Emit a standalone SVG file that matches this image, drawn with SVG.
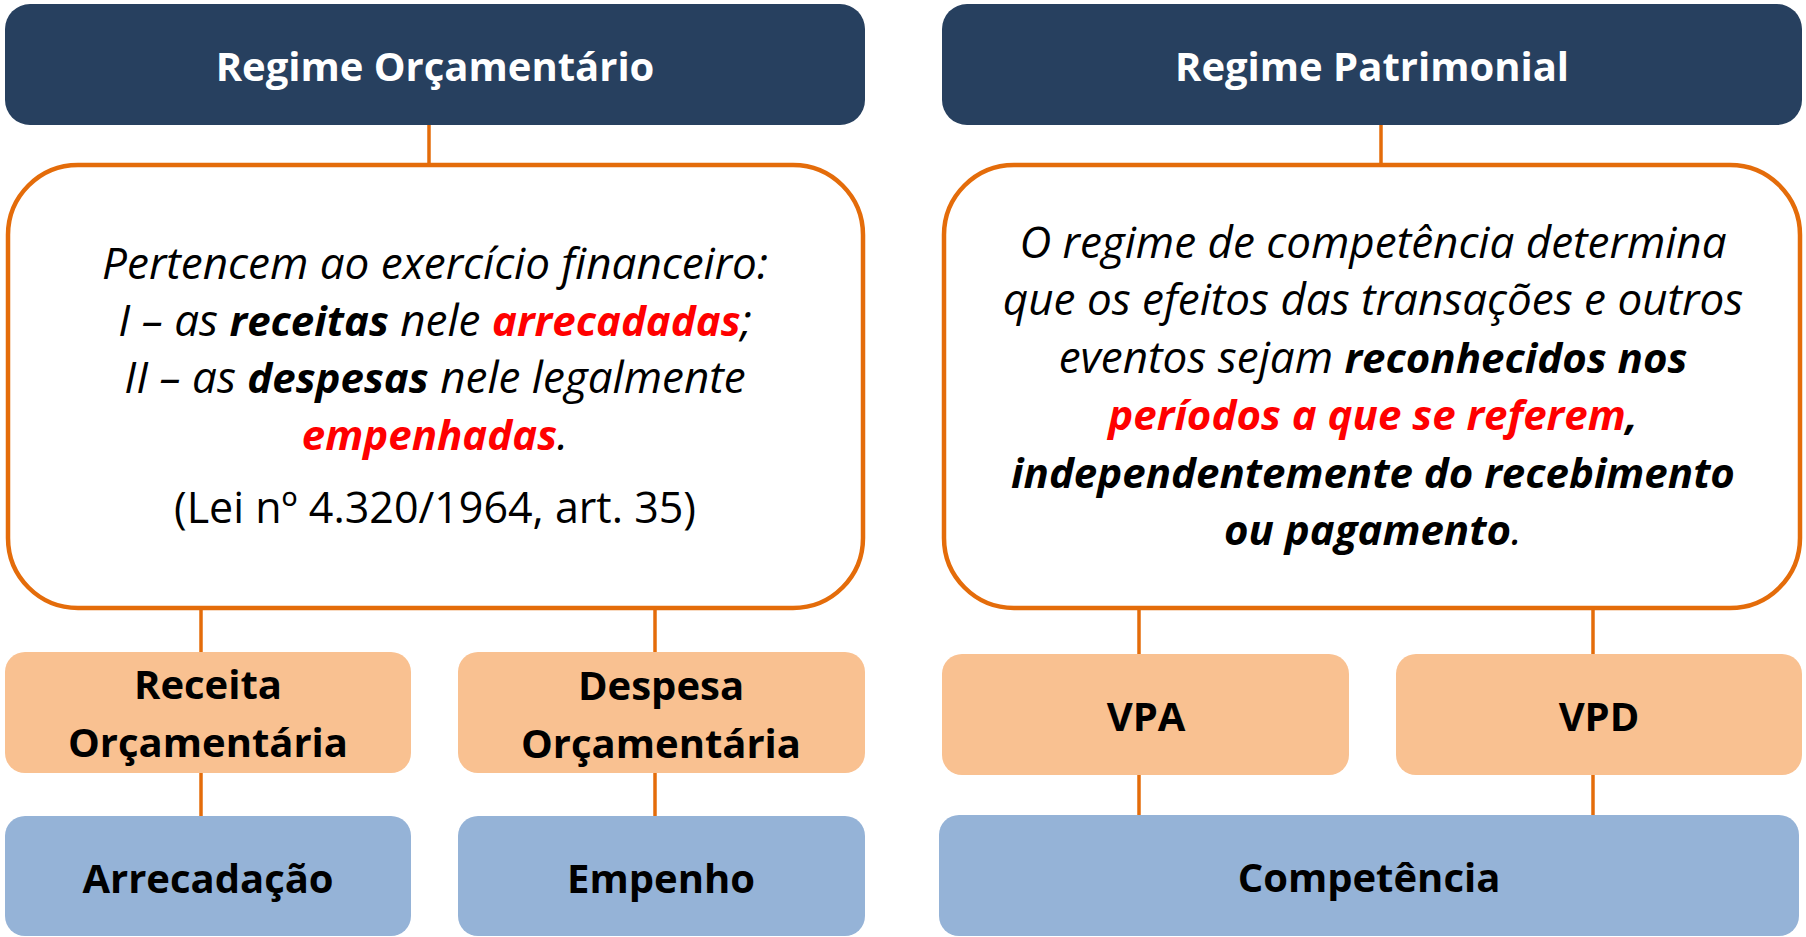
<svg xmlns="http://www.w3.org/2000/svg" width="1806" height="937" viewBox="0 0 1806 937">
<style>
.hdr{fill:#27405f}
.hdrt{fill:#fff;font-family:"Open Sans","Liberation Sans",sans-serif;font-weight:bold;font-size:40px;text-anchor:middle}
.card{fill:#fff;stroke:#e46c0a;stroke-width:4.5}
.org{fill:#f9c191}
.blu{fill:#95b3d7}
.nt{fill:#000;font-family:"Open Sans","Liberation Sans",sans-serif;font-weight:bold;font-size:40px;text-anchor:middle}
.body{fill:#000;font-family:"Open Sans","Liberation Sans",sans-serif;font-style:italic;font-size:44px;text-anchor:middle}
.b{font-weight:bold;font-size:42px}
.r{fill:#ff0000}
.n{font-style:normal;font-size:43px}
.con line{stroke:#e46c0a;stroke-width:3.5}
</style>
<g class="con">
<line x1="429" y1="124" x2="429" y2="165"/>
<line x1="201" y1="608" x2="201" y2="653"/>
<line x1="655" y1="608" x2="655" y2="653"/>
<line x1="201" y1="772" x2="201" y2="817"/>
<line x1="655" y1="772" x2="655" y2="817"/>
<line x1="1381" y1="124" x2="1381" y2="165"/>
<line x1="1139" y1="608" x2="1139" y2="655"/>
<line x1="1593" y1="608" x2="1593" y2="655"/>
<line x1="1139" y1="774" x2="1139" y2="816"/>
<line x1="1593" y1="774" x2="1593" y2="816"/>
</g>
<g id="hdr-orc">
<rect class="hdr" x="5" y="4" width="860" height="121" rx="25"/>
<text class="hdrt" x="435" y="81">Regime Orçamentário</text>
</g>
<g id="hdr-pat">
<rect class="hdr" x="942" y="4" width="860" height="121" rx="25"/>
<text class="hdrt" x="1372" y="81">Regime Patrimonial</text>
</g>
<g id="card-orc">
<rect class="card" x="8" y="165" width="855" height="443" rx="70"/>
<text class="body" x="435" y="279">Pertencem ao exercício financeiro:</text>
<text class="body" x="435" y="336">I – as <tspan class="b">receitas</tspan> nele <tspan class="b r">arrecadadas</tspan>;</text>
<text class="body" x="435" y="393">II – as <tspan class="b">despesas</tspan> nele legalmente</text>
<text class="body" x="435" y="450"><tspan class="b r">empenhadas</tspan>.</text>
<text class="body n" x="435" y="523">(Lei nº 4.320/1964, art. 35)</text>
</g>
<g id="card-pat">
<rect class="card" x="944" y="165" width="856" height="443" rx="70"/>
<text class="body" x="1373" y="258">O regime de competência determina</text>
<text class="body" x="1373" y="315">que os efeitos das transações e outros</text>
<text class="body" x="1373" y="373">eventos sejam <tspan class="b">reconhecidos nos</tspan></text>
<text class="body" x="1373" y="430"><tspan class="b r">períodos a que se referem</tspan><tspan class="b">,</tspan></text>
<text class="body b" x="1373" y="488">independentemente do recebimento</text>
<text class="body" x="1373" y="545"><tspan class="b">ou pagamento</tspan>.</text>
</g>
<g id="receita">
<rect class="org" x="5" y="652" width="406" height="121" rx="20"/>
<text class="nt" x="208" y="699">Receita</text>
<text class="nt" x="208" y="757">Orçamentária</text>
</g>
<g id="despesa">
<rect class="org" x="458" y="652" width="407" height="121" rx="20"/>
<text class="nt" x="661" y="700">Despesa</text>
<text class="nt" x="661" y="758">Orçamentária</text>
</g>
<g id="vpa">
<rect class="org" x="942" y="654" width="407" height="121" rx="20"/>
<text class="nt" x="1146" y="731">VPA</text>
</g>
<g id="vpd">
<rect class="org" x="1396" y="654" width="406" height="121" rx="20"/>
<text class="nt" x="1599" y="731">VPD</text>
</g>
<g id="arrecadacao">
<rect class="blu" x="5" y="816" width="406" height="120" rx="20"/>
<text class="nt" x="208" y="893">Arrecadação</text>
</g>
<g id="empenho">
<rect class="blu" x="458" y="816" width="407" height="120" rx="20"/>
<text class="nt" x="661" y="893">Empenho</text>
</g>
<g id="competencia">
<rect class="blu" x="939" y="815" width="860" height="121" rx="20"/>
<text class="nt" x="1369" y="892">Competência</text>
</g>
</svg>
